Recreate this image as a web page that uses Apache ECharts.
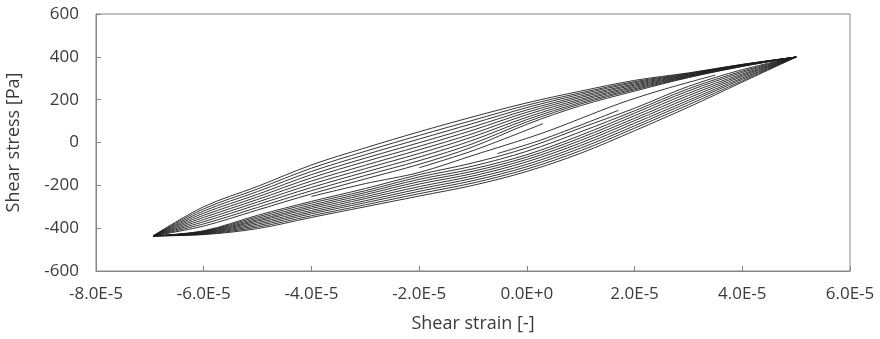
<!DOCTYPE html>
<html>
<head>
<meta charset="utf-8">
<script src="https://cdn.jsdelivr.net/npm/echarts@6/dist/echarts.min.js"></script>
<style>
  html, body { margin: 0; padding: 0; background: #fff; }
  #chart { width: 880px; height: 339px; }
</style>
</head>
<body>
<div id="chart"></div>
<script>
// strain values in units of 1E-5
const strain = [-6.94, -6, -5, -4, -3, -2, -1, 0, 1, 2, 3, 4, 5];

// unloading branches (upper band), stress [Pa] at each strain
const upper1 = [-436, -300, -205, -105, -25, 50, 120, 185, 240, 290, 325, 365, 399];
const upper2 = [-436, -310, -217, -120, -41, 33, 104, 174, 232, 284, 323, 364, 399];
const upper3 = [-436, -320, -229, -135, -57, 16, 89, 163, 225, 279, 320, 363, 399];
const upper4 = [-436, -330, -242, -150, -73, -1, 73, 152, 217, 273, 318, 362, 399];
const upper5 = [-436, -340, -254, -165, -89, -18, 58, 141, 210, 268, 315, 361, 399];
const upper6 = [-436, -350, -266, -180, -106, -34, 42, 130, 202, 262, 313, 360, 399];
const upper7 = [-436, -360, -278, -195, -122, -51, 27, 118, 195, 257, 310, 358, 399];
const upper8 = [-436, -370, -290, -210, -138, -68, 11, 107, 187, 251, 308, 357, 399];
const upper9 = [-436, -380, -303, -225, -154, -85, -5, 96, 180, 246, 305, 356, 399];
const upper10 = [-436, -390, -315, -240, -170, -102, -20, 85, 172, 240, 303, 355, 399];

// loading branches (lower band)
const lower1 = [-436, -430, -402, -350, -300, -250, -200, -135, -50, 55, 165, 282, 399];
const lower2 = [-436, -428, -395, -342, -291, -239, -189, -124, -38, 67, 176, 288, 399];
const lower3 = [-436, -426, -388, -333, -281, -228, -178, -113, -26, 78, 187, 295, 399];
const lower4 = [-436, -424, -381, -325, -272, -217, -167, -102, -14, 90, 197, 301, 399];
const lower5 = [-436, -422, -374, -317, -262, -206, -156, -90, -2, 102, 208, 308, 399];
const lower6 = [-436, -420, -367, -308, -253, -194, -145, -79, 10, 113, 219, 314, 399];
const lower7 = [-436, -418, -361, -300, -243, -183, -134, -68, 22, 125, 230, 320, 399];
const lower8 = [-436, -416, -354, -292, -234, -172, -123, -57, 34, 137, 241, 327, 399];
const lower9 = [-436, -414, -347, -283, -225, -161, -110, -41, 50, 148, 251, 333, 399];
const lower10 = [-436, -412, -340, -275, -215, -150, -95, -25, 68, 160, 262, 340, 399];

// short inner curves inside the open part of the loops [strain, stress]
const inner1 = [[-4.0, -252], [-3.0, -192], [-2.0, -140], [-1.0, -60], [0.3, 45], [1.7, 180], [2.5, 245], [3.5, 315]];
const inner2 = [[-2.0, -118], [-1.0, -38], [0.3, 88]];
const inner3 = [[-0.55, -52], [0.3, 15], [1.7, 150]];

const xTickLabels = ['-8.0E-5', '-6.0E-5', '-4.0E-5', '-2.0E-5', '0.0E+0', '2.0E-5', '4.0E-5', '6.0E-5'];
const xTickValues = [-8, -6, -4, -2, 0, 2, 4, 6];

const uppers = [upper1, upper2, upper3, upper4, upper5, upper6, upper7, upper8, upper9, upper10];
const lowers = [lower1, lower2, lower3, lower4, lower5, lower6, lower7, lower8, lower9, lower10];

const lineStyle = { color: '#1e1e1e', width: 0.9 };
const series = [];

function addCurve(pts, smooth) {
    series.push({
        type: 'line',
        data: pts,
        showSymbol: false,
        smooth: smooth,
        lineStyle: lineStyle,
        silent: true
    });
}

lowers.concat(uppers).forEach(branch => {
    addCurve(strain.map((x, i) => [x, branch[i]]), 0.35);
});
[inner1, inner2, inner3].forEach(d => addCurve(d, 0.3));

const textFont = "'Open Sans', 'Noto Sans', sans-serif";
const textColor = '#3a3a3a';
const axisColor = '#858585';

const chart = echarts.init(document.getElementById('chart'), null, { renderer: 'canvas' });
chart.setOption({
    animation: false,
    grid: {
        left: 96,
        right: 30,
        top: 14,
        bottom: 68,
        outerBoundsMode: 'none',
        containLabel: false,
        show: true,
        borderColor: axisColor,
        borderWidth: 1
    },
    xAxis: {
        type: 'value',
        min: -8,
        max: 6,
        interval: 2,
        name: 'Shear strain [-]',
        nameLocation: 'middle',
        nameGap: 44,
        nameTextStyle: { fontFamily: textFont, fontSize: 18, color: textColor },
        axisLine: { onZero: false, lineStyle: { color: axisColor } },
        axisTick: { inside: true, length: 5, lineStyle: { color: axisColor } },
        axisLabel: {
            margin: 15,
            fontFamily: textFont,
            fontSize: 17,
            color: textColor,
            formatter: v => xTickLabels[xTickValues.indexOf(v)]
        },
        splitLine: { show: false }
    },
    yAxis: {
        type: 'value',
        min: -600,
        max: 600,
        interval: 200,
        name: 'Shear stress [Pa]',
        nameLocation: 'middle',
        nameGap: 73,
        nameRotate: 90,
        nameTextStyle: { fontFamily: textFont, fontSize: 18, color: textColor },
        axisLine: { onZero: false, lineStyle: { color: axisColor } },
        axisTick: { inside: true, length: 5, lineStyle: { color: axisColor } },
        axisLabel: {
            margin: 17,
            fontFamily: textFont,
            fontSize: 17,
            color: textColor
        },
        splitLine: { show: false }
    },
    series: series
});
</script>
</body>
</html>
